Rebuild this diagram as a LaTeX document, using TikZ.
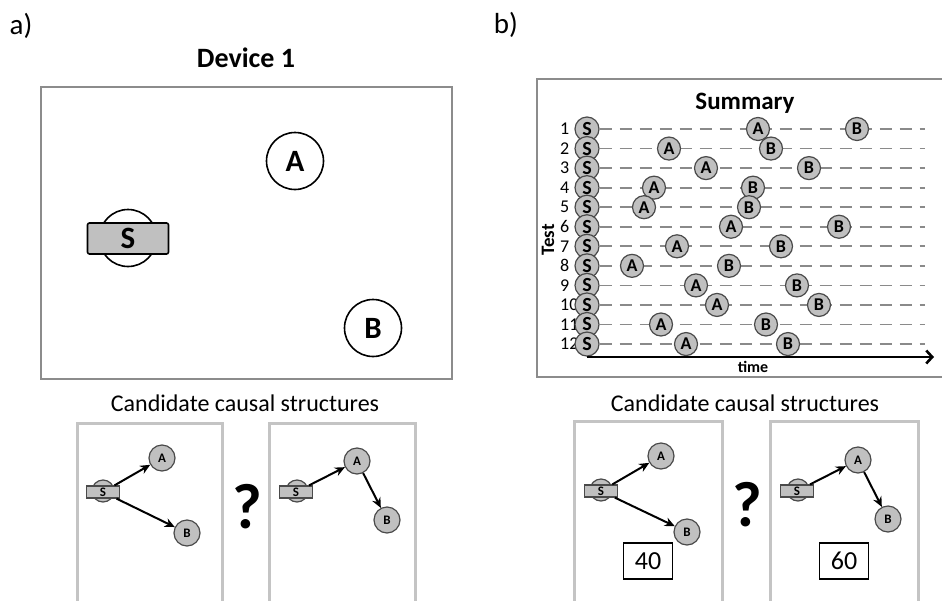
\documentclass[tikz,border=0pt]{standalone}
\usepackage{fontspec}
\setmainfont{Carlito}
\usetikzlibrary{backgrounds,arrows.meta}
\definecolor{sgray}{HTML}{C0C0C0}
\definecolor{cdark}{HTML}{4A4A4A}
\definecolor{boxgray}{HTML}{8C8C8C}
\definecolor{lightbox}{HTML}{C4C4C4}
\definecolor{dashgray}{HTML}{8A8A8A}
\tikzset{
  txt/.style={inner sep=0pt},
  bigc/.style={circle, draw, line width=1.6pt, minimum size=57pt, inner sep=0pt, font=\bfseries\fontsize{31}{31}\selectfont},
  bigrect/.style={rectangle, draw, fill=sgray, rounded corners=2pt, minimum width=81pt, minimum height=31pt, inner sep=0pt, line width=1.6pt, font=\bfseries\fontsize{31}{31}\selectfont},
  sumc/.style={circle, draw=cdark, fill=sgray, line width=1.2pt, minimum size=23pt, inner sep=0pt, font=\bfseries\fontsize{18}{18}\selectfont},
  sums/.style={sumc, minimum size=24pt, font=\bfseries\fontsize{20}{20}\selectfont},
  numlbl/.style={inner sep=0pt, font=\fontsize{18}{18}\selectfont},
  dashln/.style={draw=dashgray, line width=1.8pt, dash pattern=on 12pt off 8pt},
  smc/.style={circle, draw=cdark, fill=sgray, line width=1.2pt, minimum size=26pt, inner sep=0pt, font=\bfseries\fontsize{13}{13}\selectfont},
  smsc/.style={circle, draw=cdark, fill=sgray, line width=1.2pt, minimum size=22pt, inner sep=0pt},
  smrect/.style={rectangle, draw=cdark, fill=sgray, minimum width=33pt, minimum height=12pt, inner sep=0pt, line width=1.2pt, font=\bfseries\fontsize{13}{13}\selectfont},
  carr/.style={line width=2pt, -{Stealth[length=10pt,width=9pt]}},
  candbox/.style={draw=lightbox, line width=3pt},
  numbox/.style={rectangle, draw, line width=1.5pt, minimum width=49pt, minimum height=36pt, inner sep=0pt, font=\fontsize{26}{26}\selectfont},
  qmark/.style={inner sep=0pt, font=\bfseries\fontsize{64}{64}\selectfont}
}
\begin{document}
\begin{tikzpicture}[x=1pt,y=-1pt]
\useasboundingbox (0,0) rectangle (942,600);
\clip (0,0) rectangle (942,600);

% ---------- panel a ----------
\node[txt, font=\fontsize{29}{29}\selectfont] (la) at (21,26) {a)};
\node[txt, font=\bfseries\fontsize{28}{28}\selectfont] (dev) at (246,58) {Device 1};
\draw[draw=boxgray, line width=1.5pt] (41,87) rectangle (452,379);
\node[bigc] (dA) at (295,161) {A};
\node[bigc] (dB) at (373,328) {B};
\node[bigc] (dSc) at (128,238) {};
\node[bigrect] (dS) at (128,238.5) {S};

\node[txt, font=\fontsize{24}{24}\selectfont] (canda) at (245,403) {Candidate causal structures};
\draw[candbox] (77,605) -- (77,423) -- (222,423) -- (222,605);
\draw[candbox] (269,605) -- (269,423) -- (415,423) -- (415,605);

\node[smsc] (aLSc) at (103,491) {};
\node[smrect] (aLS) at (103,492) {S};
\node[smc] (aLA) at (162,458) {A};
\node[smc] (aLB) at (187,533) {B};
\draw[carr] (aLS) -- (aLA);
\draw[carr] (aLS) -- (aLB);

\node[qmark] (qa) at (247,507) {?};

\node[smsc] (aRSc) at (297,491) {};
\node[smrect] (aRS) at (296,492) {S};
\node[smc] (aRA) at (357,461) {A};
\node[smc] (aRB) at (387,520) {B};
\draw[carr] (aRS) -- (aRA);
\draw[carr] (aRA) -- (aRB);

% ---------- panel b ----------
\node[txt, font=\fontsize{29}{29}\selectfont] (lb) at (506,25) {b)};
\draw[draw=boxgray, line width=1.8pt] (950,79) -- (537,79) -- (537,377) -- (950,377);
\node[txt, font=\bfseries\fontsize{25}{25}\selectfont] (summ) at (745,103) {Summary};
\node[txt, font=\bfseries\fontsize{19}{19}\selectfont, rotate=90] (test) at (548,240) {Test};

\foreach \i/\ax/\bx in {1/758/857, 2/669/771, 3/706/809, 4/654/753, 5/644/749, 6/731/839, 7/677/781, 8/632/729, 9/696/797, 10/717/819, 11/661/766, 12/686/788} {
  \pgfmathsetmacro\yy{129+(\i-1)*19.55}
  \node[numlbl, anchor=west] (n\i) at (560,\yy) {\i};
  \coordinate (e\i) at (925,\yy);
  \node[sums] (S\i) at (587,\yy) {S};
  \node[sumc] (A\i) at (\ax,\yy) {A};
  \node[sumc] (B\i) at (\bx,\yy) {B};
  \begin{pgfonlayer}{background}
    \draw[dashln] (S\i) -- (e\i);
  \end{pgfonlayer}
}
\coordinate (t0) at (587,357);
\coordinate (t1) at (934,357);
\draw[line width=2.6pt, -{Straight Barb[length=6pt,width=13pt]}] (t0) -- (t1);
\node[txt, font=\bfseries\fontsize{16}{16}\selectfont] (time) at (753,367) {time};

\node[txt, font=\fontsize{24}{24}\selectfont] (candb) at (745,403) {Candidate causal structures};
\draw[candbox] (574,605) -- (574,421) -- (722,421) -- (722,605);
\draw[candbox] (770,605) -- (770,421) -- (918,421) -- (918,605);

\node[smsc] (bLSc) at (601,490) {};
\node[smrect] (bLS) at (601,491) {S};
\node[smc] (bLA) at (661,456) {A};
\node[smc] (bLB) at (687,532) {B};
\draw[carr] (bLS) -- (bLA);
\draw[carr] (bLS) -- (bLB);
\node[numbox] (v40) at (648,561) {40};

\node[qmark] (qb) at (747,505) {?};

\node[smsc] (bRSc) at (798,490) {};
\node[smrect] (bRS) at (797,491) {S};
\node[smc] (bRA) at (858,460) {A};
\node[smc] (bRB) at (888,519) {B};
\draw[carr] (bRS) -- (bRA);
\draw[carr] (bRA) -- (bRB);
\node[numbox] (v60) at (844,561) {60};
\end{tikzpicture}
\end{document}
